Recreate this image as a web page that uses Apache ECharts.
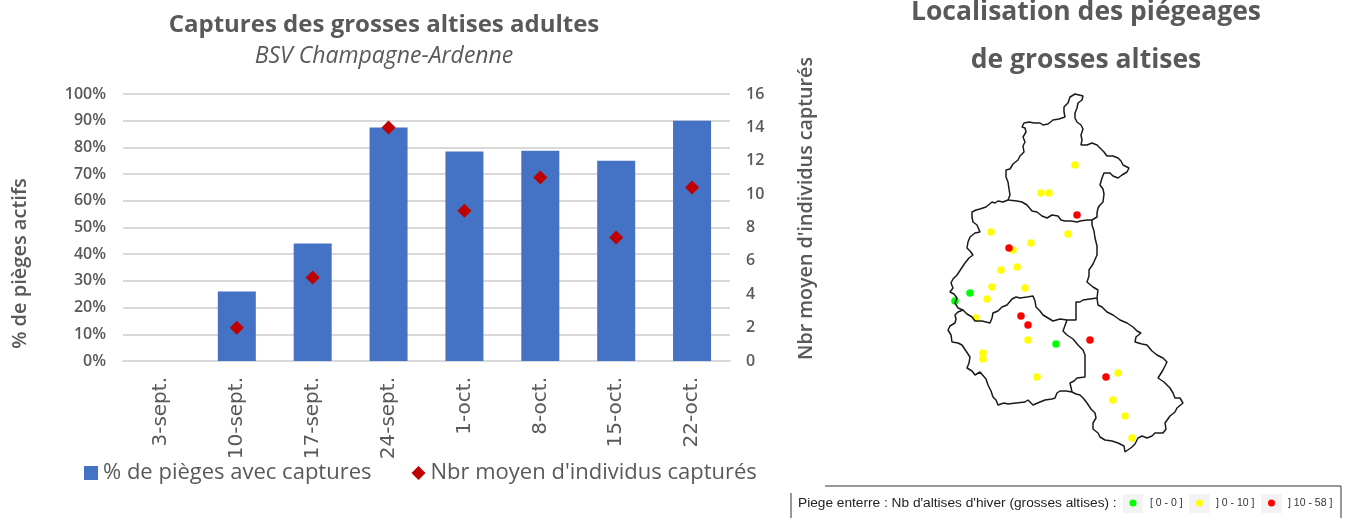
<!DOCTYPE html>
<html>
<head>
<meta charset="utf-8">
<title>Captures des grosses altises adultes</title>
<script src="https://cdn.jsdelivr.net/npm/echarts@6/dist/echarts.min.js"></script>
<style>
  html, body { margin: 0; padding: 0; background: #fff; }
  #chart { width: 1349px; height: 518px; }
</style>
</head>
<body>
<div id="chart"></div>
<script>
// donnees du graphique
var dates = ["3-sept.", "10-sept.", "17-sept.", "24-sept.", "1-oct.", "8-oct.", "15-oct.", "22-oct."];
var pctPieges = [0, 26, 44, 87.5, 78.5, 78.7, 75, 90];
var nbrMoyen = [null, 2, 5, 14, 9, 11, 7.4, 10.4];
var pctTicks = 10;
var nbrTicks = 2;

// contours des departements, en unites de carte
var ardennes = [[78,115],[80,110],[79,104],[78,97],[76,92],[76,85],[80,84],[83,79],[88,75],[90,71],[94,67],[93,61],[95,57],[93,52],[96,47],[95,43],[92,42],[94,38],[99,37],[104,38],[110,38],[113,40],[118,39],[123,35],[129,34],[135,32],[134,27],[134,22],[138,18],[140,12],[145,9],[147,8],[153,11],[152,15],[148,18],[147,23],[145,28],[145,33],[147,37],[151,40],[153,44],[151,50],[152,55],[151,60],[157,60],[162,58],[167,60],[170,63],[174,67],[177,71],[183,71],[188,73],[191,76],[193,80],[199,83],[197,87],[192,90],[188,93],[183,91],[180,88],[174,88],[172,93],[170,100],[173,104],[174,109],[173,117],[170,120],[168,123],[167,128],[167,132],[162,135],[157,135],[155,133],[150,136],[147,137],[141,136],[135,136],[131,135],[128,131],[122,130],[117,133],[112,131],[107,127],[102,126],[97,120],[92,117],[87,116],[78,115]];
var marne = [[78,115],[73,117],[68,116],[65,118],[62,117],[56,122],[50,124],[46,125],[42,127],[42,132],[43,137],[47,140],[50,147],[45,148],[40,152],[38,157],[37,163],[40,166],[43,170],[39,173],[35,178],[31,184],[27,190],[23,194],[21,198],[23,203],[20,207],[24,209],[27,213],[25,218],[28,223],[33,225],[37,229],[42,232],[45,236],[52,236],[60,238],[62,233],[63,228],[68,226],[72,222],[77,220],[82,214],[86,212],[90,213],[97,212],[103,211],[105,216],[106,222],[110,226],[113,230],[118,233],[123,236],[130,234],[137,235],[146,235],[146,226],[146,217],[150,217],[153,215],[160,214],[167,213],[168,205],[163,202],[157,197],[159,191],[159,185],[163,179],[167,170],[167,161],[165,153],[164,146],[162,140],[162,135]];
var aube = [[33,225],[28,227],[25,230],[26,234],[25,238],[20,241],[18,245],[21,250],[22,257],[28,258],[32,260],[36,266],[40,272],[39,278],[37,283],[42,286],[45,290],[50,287],[52,288],[56,294],[58,300],[61,306],[63,312],[66,315],[68,320],[74,318],[78,319],[86,318],[95,317],[98,315],[103,320],[110,317],[115,315],[122,314],[125,313],[127,308],[130,306],[136,306],[142,307],[140,298],[144,296],[147,293],[155,292],[155,281],[155,270],[153,265],[148,260],[143,254],[137,250],[133,246],[133,244],[137,235]];
var hauteMarne = [[167,213],[168,220],[172,222],[177,227],[183,230],[190,235],[197,238],[203,242],[207,246],[211,248],[206,252],[205,257],[212,259],[217,260],[222,266],[227,270],[233,273],[237,277],[233,285],[228,293],[234,297],[240,303],[243,308],[245,313],[250,313],[253,318],[247,323],[245,327],[240,331],[235,338],[236,344],[233,348],[225,348],[222,351],[217,353],[212,351],[208,353],[205,359],[202,362],[195,367],[194,361],[188,358],[182,356],[175,355],[170,352],[168,348],[163,344],[163,338],[166,333],[165,328],[161,324],[157,318],[154,314],[150,310],[146,309],[142,307]];

// pieges par classe
var piegesVerts = [[40,208],[25,216],[126,259]];
var piegesJaunes = [[145,80],[111,108],[119,108],[61,147],[101,158],[83,165],[87,182],[71,185],[138,149],[62,202],[95,203],[57,214],[46,233],[98,255],[53,268],[53,274],[107,292],[188,288],[183,315],[195,331],[202,353]];
var piegesRouges = [[147,130],[79,163],[91,231],[98,240],[160,255],[176,292]];

var gris = "#595959";
var fontTitre = "Open Sans";

function contour(points) {
  return {
    type: "line", xAxisIndex: 1, yAxisIndex: 2, data: points,
    symbol: "none", silent: true,
    lineStyle: { color: "#1a1a1a", width: 1.5 }
  };
}
function pieges(nom, points, couleur) {
  return {
    type: "scatter", name: nom, xAxisIndex: 1, yAxisIndex: 2, data: points,
    symbol: "circle", symbolSize: 7.5, itemStyle: { color: couleur, opacity: 1 }
  };
}
function caseLegende(x, largeur, couleur, texte, xTexte) {
  return [
    { type: "rect", shape: { x: x, y: 494, width: largeur, height: 19 }, style: { fill: "#f3f3f3" } },
    { type: "circle", shape: { cx: x + largeur / 2, cy: 503, r: 3.5 }, style: { fill: couleur } },
    { type: "text", x: xTexte, y: 503, style: { text: texte, fill: "#333", font: "10.5px 'Liberation Sans'", textVerticalAlign: "middle" } }
  ];
}

var myChart = echarts.init(document.getElementById("chart"));
var option = {
  animation: false,
  backgroundColor: "#fff",
  title: [
    { text: "Captures des grosses altises adultes", left: 379, top: 8, textAlign: "center",
      textStyle: { fontFamily: fontTitre, fontSize: 24, fontWeight: 700, color: gris } },
    { text: "BSV Champagne-Ardenne", left: 379, top: 40, textAlign: "center",
      textStyle: { fontFamily: fontTitre, fontSize: 23, fontStyle: "italic", fontWeight: 400, color: gris } },
    { text: "Localisation des piégeages", left: 1081, top: -6, textAlign: "center",
      textStyle: { fontFamily: fontTitre, fontSize: 26.5, fontWeight: 700, color: gris } },
    { text: "de grosses altises", left: 1081, top: 42, textAlign: "center",
      textStyle: { fontFamily: fontTitre, fontSize: 26.5, fontWeight: 700, color: gris } }
  ],
  legend: {
    data: [
      { name: "% de pièges avec captures", icon: "rect" },
      { name: "Nbr moyen d'individus capturés", icon: "diamond" }
    ],
    left: 79, top: 457, itemWidth: 14, itemHeight: 14, itemGap: 40,
    textStyle: { fontFamily: fontTitre, fontSize: 22, color: gris }
  },
  grid: [
    { left: 123, top: 94, width: 607, height: 267 },
    { left: 930, top: 85, width: 270, height: 375 }
  ],
  xAxis: [
    { type: "category", gridIndex: 0, data: dates,
      axisTick: { show: false },
      axisLine: { lineStyle: { color: "#d9d9d9", width: 2 } },
      axisLabel: { rotate: 90, margin: 16, fontFamily: "DejaVu Sans", fontSize: 20, color: gris } },
    { type: "value", gridIndex: 1, min: 0, max: 270, show: false }
  ],
  yAxis: [
    { type: "value", gridIndex: 0, min: 0, max: 100, interval: pctTicks,
      name: "% de pièges actifs", nameLocation: "middle", nameGap: 93, nameRotate: 90,
      nameTextStyle: { fontFamily: fontTitre, fontSize: 20, fontWeight: 600, color: gris, padding: [0, 72, 0, 0] },
      axisLine: { show: false }, axisTick: { show: false },
      axisLabel: { formatter: "{value}%", margin: 17, fontFamily: fontTitre, fontSize: 16, fontWeight: 600, color: gris },
      splitLine: { lineStyle: { color: "#d9d9d9", width: 2 } } },
    { type: "value", gridIndex: 0, position: "right", min: 0, max: 16, interval: nbrTicks,
      name: "Nbr moyen d'individus capturés", nameLocation: "middle", nameGap: 66, nameRotate: 90,
      nameTextStyle: { fontFamily: fontTitre, fontSize: 19.7, fontWeight: 600, color: gris, padding: [0, 0, 0, 38] },
      axisLine: { show: false }, axisTick: { show: false }, splitLine: { show: false },
      axisLabel: { margin: 16, fontFamily: fontTitre, fontSize: 16, fontWeight: 600, color: gris } },
    { type: "value", gridIndex: 1, min: 0, max: 375, inverse: true, show: false }
  ],
  series: [
    { type: "bar", name: "% de pièges avec captures", xAxisIndex: 0, yAxisIndex: 0,
      data: pctPieges, barWidth: 38, itemStyle: { color: "#4472c4" } },
    { type: "scatter", name: "Nbr moyen d'individus capturés", xAxisIndex: 0, yAxisIndex: 1,
      data: nbrMoyen, symbol: "diamond", symbolSize: 14, itemStyle: { color: "#c00000", opacity: 1 }, z: 5 },
    contour(ardennes), contour(marne), contour(aube), contour(hauteMarne),
    pieges("[ 0 - 0 ]", piegesVerts, "#00ff00"),
    pieges("] 0 - 10 ]", piegesJaunes, "#ffff00"),
    pieges("] 10 - 58 ]", piegesRouges, "#ff0000")
  ],
  graphic: [
    { type: "polyline", shape: { points: [[825, 486], [1341, 486], [1341, 518]] }, style: { stroke: "#333", lineWidth: 1, fill: null } },
    { type: "line", shape: { x1: 791, y1: 493, x2: 791, y2: 518 }, style: { stroke: "#333", lineWidth: 1 } },
    { type: "text", x: 798, y: 503, style: { text: "Piege enterre : Nb d'altises d'hiver (grosses altises) :", fill: "#222", font: "13.7px 'Liberation Sans'", textVerticalAlign: "middle" } }
  ].concat(
    caseLegende(1123, 20, "#00ff00", "[ 0 - 0 ]", 1150),
    caseLegende(1189, 21, "#ffff00", "] 0 - 10 ]", 1216),
    caseLegende(1261, 21, "#ff0000", "] 10 - 58 ]", 1288)
  )
};
myChart.setOption(option);
window.onresize = function () { myChart.resize(); };
</script>
</body>
</html>
